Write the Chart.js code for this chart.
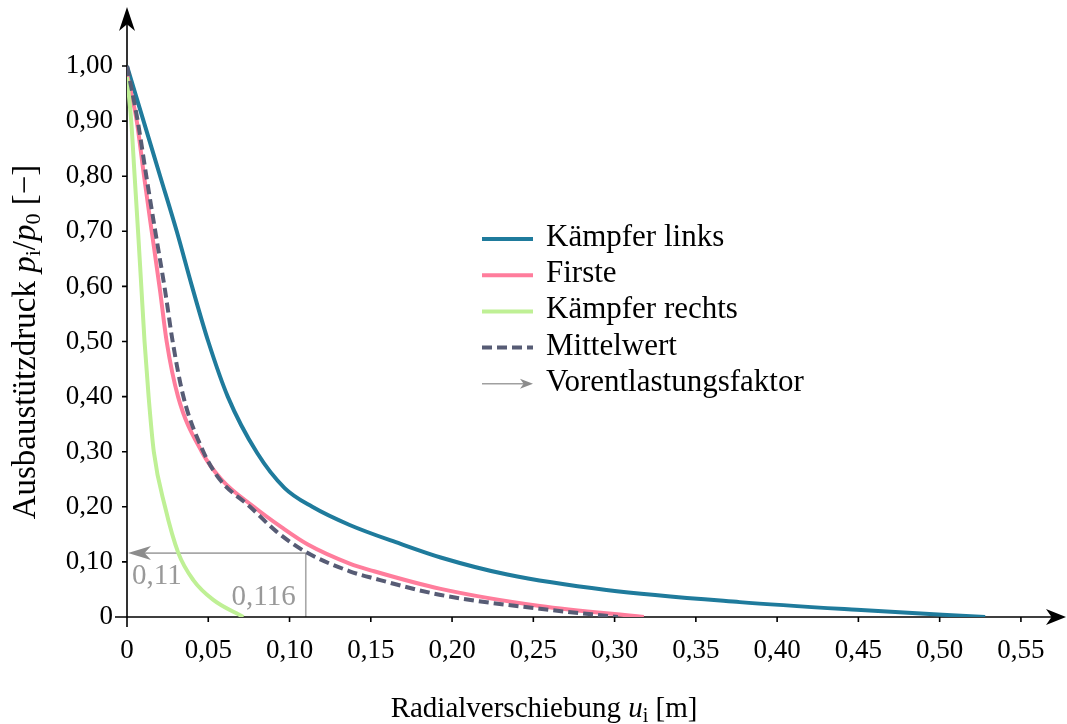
<!DOCTYPE html>
<html>
<head>
<meta charset="utf-8">
<script src="https://cdn.jsdelivr.net/npm/chart.js@4.4.1/dist/chart.umd.min.js"></script>
<style>
  html, body { margin: 0; padding: 0; background: #fff; }
</style>
</head>
<body>
<canvas id="pressureChart" width="1067" height="724"></canvas>
<script>
// Radialverschiebung u_i [m] gegen Ausbaustützdruck p_i/p_0 [-]
const linksU = [0, 0.0102, 0.0204, 0.0306, 0.040, 0.050, 0.062, 0.080, 0.097, 0.114, 0.137, 0.168, 0.193, 0.234, 0.295, 0.377, 0.449, 0.528];
const linksP = [1.0, 0.9, 0.8, 0.7, 0.6, 0.5, 0.4, 0.298, 0.234, 0.2, 0.167, 0.133, 0.108, 0.077, 0.049, 0.027, 0.013, 0.0];

const firsteU = [0, 0.006, 0.0105, 0.0152, 0.0203, 0.0244, 0.0314, 0.046, 0.058, 0.078, 0.095, 0.111, 0.137, 0.152, 0.193, 0.254, 0.318];
const firsteP = [0.985, 0.9, 0.8, 0.7, 0.593, 0.5, 0.4, 0.3, 0.25, 0.2, 0.163, 0.132, 0.097, 0.083, 0.051, 0.02, 0.0];

const rechtsU = [0, 0.0026, 0.0047, 0.0068, 0.0088, 0.0108, 0.0133, 0.0165, 0.0234, 0.0316, 0.0408, 0.0531, 0.0716];
const rechtsP = [0.98, 0.9, 0.8, 0.7, 0.6, 0.5, 0.4, 0.3, 0.2, 0.116, 0.067, 0.031, 0.0];

const mittelU = [0, 0.0066, 0.0119, 0.0174, 0.0234, 0.0281, 0.0347, 0.047, 0.057, 0.0757, 0.092, 0.110, 0.137, 0.152, 0.193, 0.254, 0.302];
const mittelP = [1.0, 0.9, 0.8, 0.7, 0.593, 0.5, 0.4, 0.3, 0.25, 0.2, 0.155, 0.118, 0.083, 0.07, 0.040, 0.015, 0.0];

// Vorentlastungsfaktor
const faktorU = 0.11;
const faktorP = 0.116;
const faktorLabels = ["0,11", "0,116"];

const xTicks = [0, 0.05, 0.10, 0.15, 0.20, 0.25, 0.30, 0.35, 0.40, 0.45, 0.50, 0.55];
const yTicks = [0, 0.1, 0.2, 0.3, 0.4, 0.5, 0.6, 0.7, 0.8, 0.9, 1.0];

const SERIF = '"Liberation Serif", "Times New Roman", serif';

const pts = (us, ps) => us.map((u, i) => ({ x: u, y: ps[i] }));
const fmt = v => v === 0 ? "0" : v.toFixed(2).replace(".", ",");

function drawRuns(ctx, runs, x, y) {
  let total = 0;
  runs.forEach(r => { ctx.font = r.font; total += ctx.measureText(r.text).width; });
  let cx = x - total / 2;
  runs.forEach(r => {
    ctx.font = r.font;
    ctx.fillText(r.text, cx, y + (r.dy || 0));
    cx += ctx.measureText(r.text).width;
  });
}

function arrowHead(ctx, x, y, angle, len, half, color) {
  ctx.save();
  ctx.translate(x, y);
  ctx.rotate(angle);
  ctx.fillStyle = color;
  ctx.beginPath();
  ctx.moveTo(0, 0);
  ctx.lineTo(-len, -half);
  ctx.lineTo(-len * 0.72, 0);
  ctx.lineTo(-len, half);
  ctx.closePath();
  ctx.fill();
  ctx.restore();
}

const axesPlugin = {
  id: "axesPlugin",
  beforeDatasetsDraw(chart) {
    const { ctx, chartArea, scales: { x, y } } = chart;
    const x0 = x.getPixelForValue(0), y0 = y.getPixelForValue(0);
    const yTop = y.getPixelForValue(1.0) - 59;
    ctx.save();

    // Vorentlastungsfaktor: Hilfslinien und Pfeil zur Ordinate
    const fx = x.getPixelForValue(faktorU), fy = y.getPixelForValue(faktorP);
    ctx.strokeStyle = "#a8a8a8";
    ctx.lineWidth = 1.6;
    ctx.beginPath();
    ctx.moveTo(fx, y0);
    ctx.lineTo(fx, fy);
    ctx.lineTo(x0 + 12, fy);
    ctx.stroke();
    arrowHead(ctx, x0 + 1, fy, Math.PI, 23, 7, "#8c8c8c");
    ctx.fillStyle = "#999";
    ctx.font = "29px " + SERIF;
    ctx.textAlign = "left";
    ctx.textBaseline = "alphabetic";
    ctx.fillText(faktorLabels[0], x0 + 5, fy + 31);
    ctx.textAlign = "right";
    ctx.fillText(faktorLabels[1], fx - 10, y0 - 12);

    // Achsen
    ctx.strokeStyle = "#000";
    ctx.lineWidth = 1.6;
    ctx.beginPath();
    ctx.moveTo(x0 - 12, y0);
    ctx.lineTo(chartArea.right + 4, y0);
    ctx.moveTo(x0, y0 + 10);
    ctx.lineTo(x0, yTop + 8);
    xTicks.forEach(v => {
      const px = x.getPixelForValue(v);
      ctx.moveTo(px, y0);
      ctx.lineTo(px, y0 + 5);
    });
    yTicks.forEach(v => {
      const py = y.getPixelForValue(v);
      ctx.moveTo(x0 - 5, py);
      ctx.lineTo(x0, py);
    });
    ctx.stroke();
    arrowHead(ctx, chartArea.right + 9, y0, 0, 20, 8, "#000");
    arrowHead(ctx, x0, yTop, -Math.PI / 2, 24, 8, "#000");

    // Achsenbeschriftungen
    ctx.fillStyle = "#000";
    ctx.textAlign = "left";
    ctx.textBaseline = "alphabetic";
    const f = "29px " + SERIF, fi = "italic 29px " + SERIF, fs = "20px " + SERIF;
    drawRuns(ctx, [
      { text: "Radialverschiebung ", font: f },
      { text: "u", font: fi },
      { text: "i", font: fs, dy: 5 },
      { text: " [m]", font: f }
    ], 544, 717);
    ctx.save();
    ctx.translate(35, 342);
    ctx.rotate(-Math.PI / 2);
    const g = "33px " + SERIF, gi = "italic 33px " + SERIF, gs = "22px " + SERIF;
    drawRuns(ctx, [
      { text: "Ausbaustützdruck ", font: g },
      { text: "p", font: gi },
      { text: "i", font: gs, dy: 5 },
      { text: "/", font: g },
      { text: "p", font: gi },
      { text: "0", font: gs, dy: 5 },
      { text: " [−]", font: g }
    ], 0, 0);
    ctx.restore();
    ctx.restore();
  },
  afterDraw(chart) {
    const { ctx } = chart;
    const lx = 482, lw = 51, ty = 239, gap = 36.2;
    ctx.save();
    ctx.font = "31px " + SERIF;
    ctx.textAlign = "left";
    ctx.textBaseline = "alphabetic";
    chart.data.datasets.forEach((ds, i) => {
      const yy = ty + i * gap;
      ctx.strokeStyle = ds.borderColor;
      ctx.lineWidth = ds.borderWidth;
      ctx.setLineDash(ds.borderDash || []);
      ctx.beginPath();
      ctx.moveTo(lx, yy);
      ctx.lineTo(lx + lw, yy);
      ctx.stroke();
      ctx.setLineDash([]);
      ctx.fillStyle = "#000";
      ctx.fillText(ds.label, lx + lw + 13, yy + 7);
    });
    const ay = ty + 4 * gap;
    ctx.strokeStyle = "#a0a0a0";
    ctx.lineWidth = 1.6;
    ctx.beginPath();
    ctx.moveTo(lx, ay);
    ctx.lineTo(lx + lw - 4, ay);
    ctx.stroke();
    arrowHead(ctx, lx + lw, ay, 0, 13, 5, "#8c8c8c");
    ctx.fillStyle = "#000";
    ctx.fillText("Vorentlastungsfaktor", lx + lw + 13, ay + 7);
    ctx.restore();
  }
};

const tickFont = { family: SERIF, size: 27 };

new Chart(document.getElementById("pressureChart"), {
  type: "line",
  data: {
    datasets: [
      {
        label: "Kämpfer links",
        data: pts(linksU, linksP),
        borderColor: "#1f7b9c",
        borderWidth: 4,
        order: 3
      },
      {
        label: "Firste",
        data: pts(firsteU, firsteP),
        borderColor: "#ff7d9c",
        borderWidth: 4,
        order: 2
      },
      {
        label: "Kämpfer rechts",
        data: pts(rechtsU, rechtsP),
        borderColor: "#bff095",
        borderWidth: 4,
        order: 1
      },
      {
        label: "Mittelwert",
        data: pts(mittelU, mittelP),
        borderColor: "#575c75",
        borderWidth: 4,
        borderDash: [10, 5],
        order: 0
      }
    ]
  },
  options: {
    responsive: false,
    animation: false,
    devicePixelRatio: 1,
    layout: { padding: { top: 11, right: 10, left: 0, bottom: 0 } },
    elements: {
      point: { radius: 0 },
      line: { cubicInterpolationMode: "monotone", fill: false }
    },
    plugins: { legend: { display: false }, tooltip: { enabled: false } },
    scales: {
      x: {
        type: "linear",
        min: 0,
        max: 0.5722,
        grid: { display: false, drawTicks: false },
        border: { display: false },
        ticks: { font: tickFont, color: "#000", padding: 18, maxRotation: 0, autoSkip: false, callback: v => fmt(v) },
        afterBuildTicks: s => { s.ticks = xTicks.map(v => ({ value: v })); },
        afterFit: s => { s.height = 107; }
      },
      y: {
        type: "linear",
        min: 0,
        max: 1.065,
        grid: { display: false, drawTicks: false },
        border: { display: false },
        ticks: { font: tickFont, color: "#000", padding: 14, autoSkip: false, callback: v => fmt(v) },
        afterBuildTicks: s => { s.ticks = yTicks.map(v => ({ value: v })); },
        afterFit: s => { s.width = 127; }
      }
    }
  },
  plugins: [axesPlugin]
});
</script>
</body>
</html>
